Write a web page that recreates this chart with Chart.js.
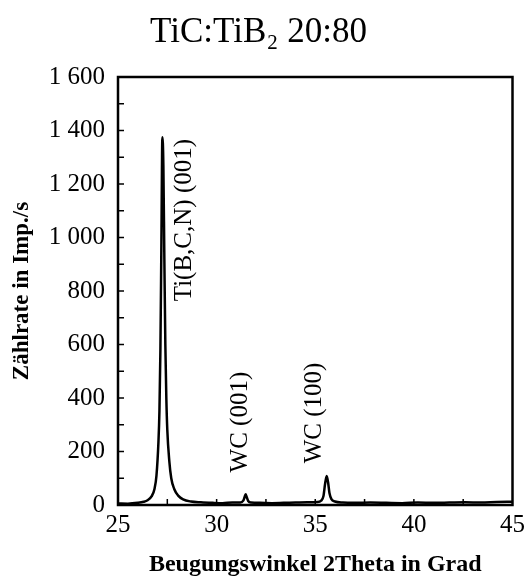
<!DOCTYPE html>
<html>
<head>
<meta charset="utf-8">
<script src="https://cdn.jsdelivr.net/npm/chart.js@4"></script>
<style>
  html, body { margin: 0; padding: 0; background: #fff; }
  #wrap { width: 530px; height: 581px; }
</style>
</head>
<body>
<div id="wrap"><canvas id="grafik"></canvas></div>
<script>
// 2Theta in Grad
const twoTheta = [
  25.0, 25.5, 26.0, 26.3, 26.5, 26.7, 26.85, 26.95, 27.05, 27.1, 27.15, 27.2, 27.25,
  27.3, 27.35, 27.4, 27.45, 27.5, 27.6, 27.7, 27.85, 28.05, 28.3, 28.7, 29.2, 29.8, 30.3,
  30.8, 31.2, 31.35, 31.42, 31.47, 31.52, 31.6, 31.75, 32.2, 32.8, 33.4, 34.0, 34.6,
  35.1, 35.3, 35.42, 35.5, 35.58, 35.65, 35.72, 35.82, 36.0, 36.4, 37.0, 37.8, 38.6,
  39.4, 40.2, 41.0, 41.8, 42.6, 43.4, 44.2, 45.0
];
// Zaehlrate in Imp./s
const counts = [
  6, 5, 8, 12, 18, 32, 60, 110, 235, 350, 580, 980, 1375,
  1270, 920, 600, 400, 280, 165, 100, 60, 35, 21, 13, 10, 8, 7,
  9, 9, 16, 30, 40, 31, 15, 9, 8, 7, 8, 9, 10,
  11, 16, 35, 80, 108, 85, 45, 22, 13, 9, 8, 9, 8,
  7, 9, 8, 9, 10, 9, 11, 12
];
const yTickLabels = ['0', '200', '400', '600', '800', '1 000', '1 200', '1 400', '1 600'];
const xTickLabels = ['25', '30', '35', '40', '45'];
const peakLabels = ['Ti(B,C,N) (001)', 'WC (001)', 'WC (100)'];

const serif = "'Liberation Serif', 'Times New Roman', serif";

const frameAndTicks = {
  id: 'frameAndTicks',
  afterDraw(chart) {
    const {ctx, chartArea: a, scales: {x, y}} = chart;
    ctx.save();
    ctx.strokeStyle = '#000';
    ctx.lineWidth = 1.5;
    // inner ticks left
    for (let v = 100; v < 1600; v += 100) {
      const py = y.getPixelForValue(v);
      ctx.beginPath();
      ctx.moveTo(a.left, py);
      ctx.lineTo(a.left + 6, py);
      ctx.stroke();
    }
    // inner ticks bottom
    for (let v = 27.5; v < 45; v += 2.5) {
      const px = x.getPixelForValue(v);
      ctx.beginPath();
      ctx.moveTo(px, a.bottom);
      ctx.lineTo(px, a.bottom - 6);
      ctx.stroke();
    }
    ctx.lineWidth = 2.5;
    ctx.strokeRect(a.left, a.top, a.right - a.left, a.bottom - a.top);

    // peak labels, rotated
    const spots = [[28.35, 1065], [31.2, 310], [34.97, 344]];
    ctx.fillStyle = '#000';
    ctx.font = '25px ' + serif;
    ctx.textAlign = 'center';
    ctx.textBaseline = 'middle';
    peakLabels.forEach((t, i) => {
      ctx.save();
      ctx.translate(x.getPixelForValue(spots[i][0]), y.getPixelForValue(spots[i][1]));
      ctx.rotate(-Math.PI / 2);
      ctx.fillText(t, 0, 0);
      ctx.restore();
    });
    ctx.restore();
  }
};

new Chart(
  document.getElementById('grafik'),
  {
    type: 'line',
    data: {
      datasets: [
        {
          label: 'TiC:TiB2 20:80',
          data: twoTheta.map((t, i) => ({x: t, y: counts[i]})),
          borderColor: '#000',
          borderWidth: 2.5,
          pointRadius: 0,
          cubicInterpolationMode: 'monotone',
          fill: false
        }
      ]
    },
    options: {
      responsive: true,
      maintainAspectRatio: false,
      animation: false,
      layout: { padding: { left: 0, right: 13, top: 0, bottom: 2 } },
      plugins: {
        legend: { display: false },
        tooltip: { enabled: false },
        title: {
          display: true,
          text: 'TiC:TiB\u2082 20:80',
          color: '#000',
          font: { family: serif, size: 35, weight: 'normal' },
          padding: { top: 12, bottom: 23 }
        }
      },
      scales: {
        x: {
          type: 'linear',
          min: 25,
          max: 45,
          grid: { display: false, drawTicks: false },
          border: { display: false },
          ticks: {
            stepSize: 5,
            color: '#000',
            padding: 5,
            font: { family: serif, size: 25 },
            maxRotation: 0,
            callback: (v, i) => xTickLabels[i]
          },
          title: {
            display: true,
            text: 'Beugungswinkel 2Theta in Grad',
            color: '#000',
            font: { family: serif, size: 24, weight: 'bold' },
            padding: { top: 4, bottom: 0 }
          },
          afterFit: (scale) => { scale.height = 74; }
        },
        y: {
          min: 0,
          max: 1600,
          grid: { display: false, drawTicks: false },
          border: { display: false },
          ticks: {
            stepSize: 200,
            color: '#000',
            padding: 13,
            font: { family: serif, size: 25 },
            callback: (v, i) => yTickLabels[i]
          },
          title: {
            display: true,
            text: 'Zählrate in Imp./s',
            color: '#000',
            font: { family: serif, size: 23, weight: 'bold' },
            padding: { top: 8, bottom: 0 }
          },
          afterFit: (scale) => { scale.width = 118; }
        }
      }
    },
    plugins: [frameAndTicks]
  }
);
</script>
</body>
</html>
